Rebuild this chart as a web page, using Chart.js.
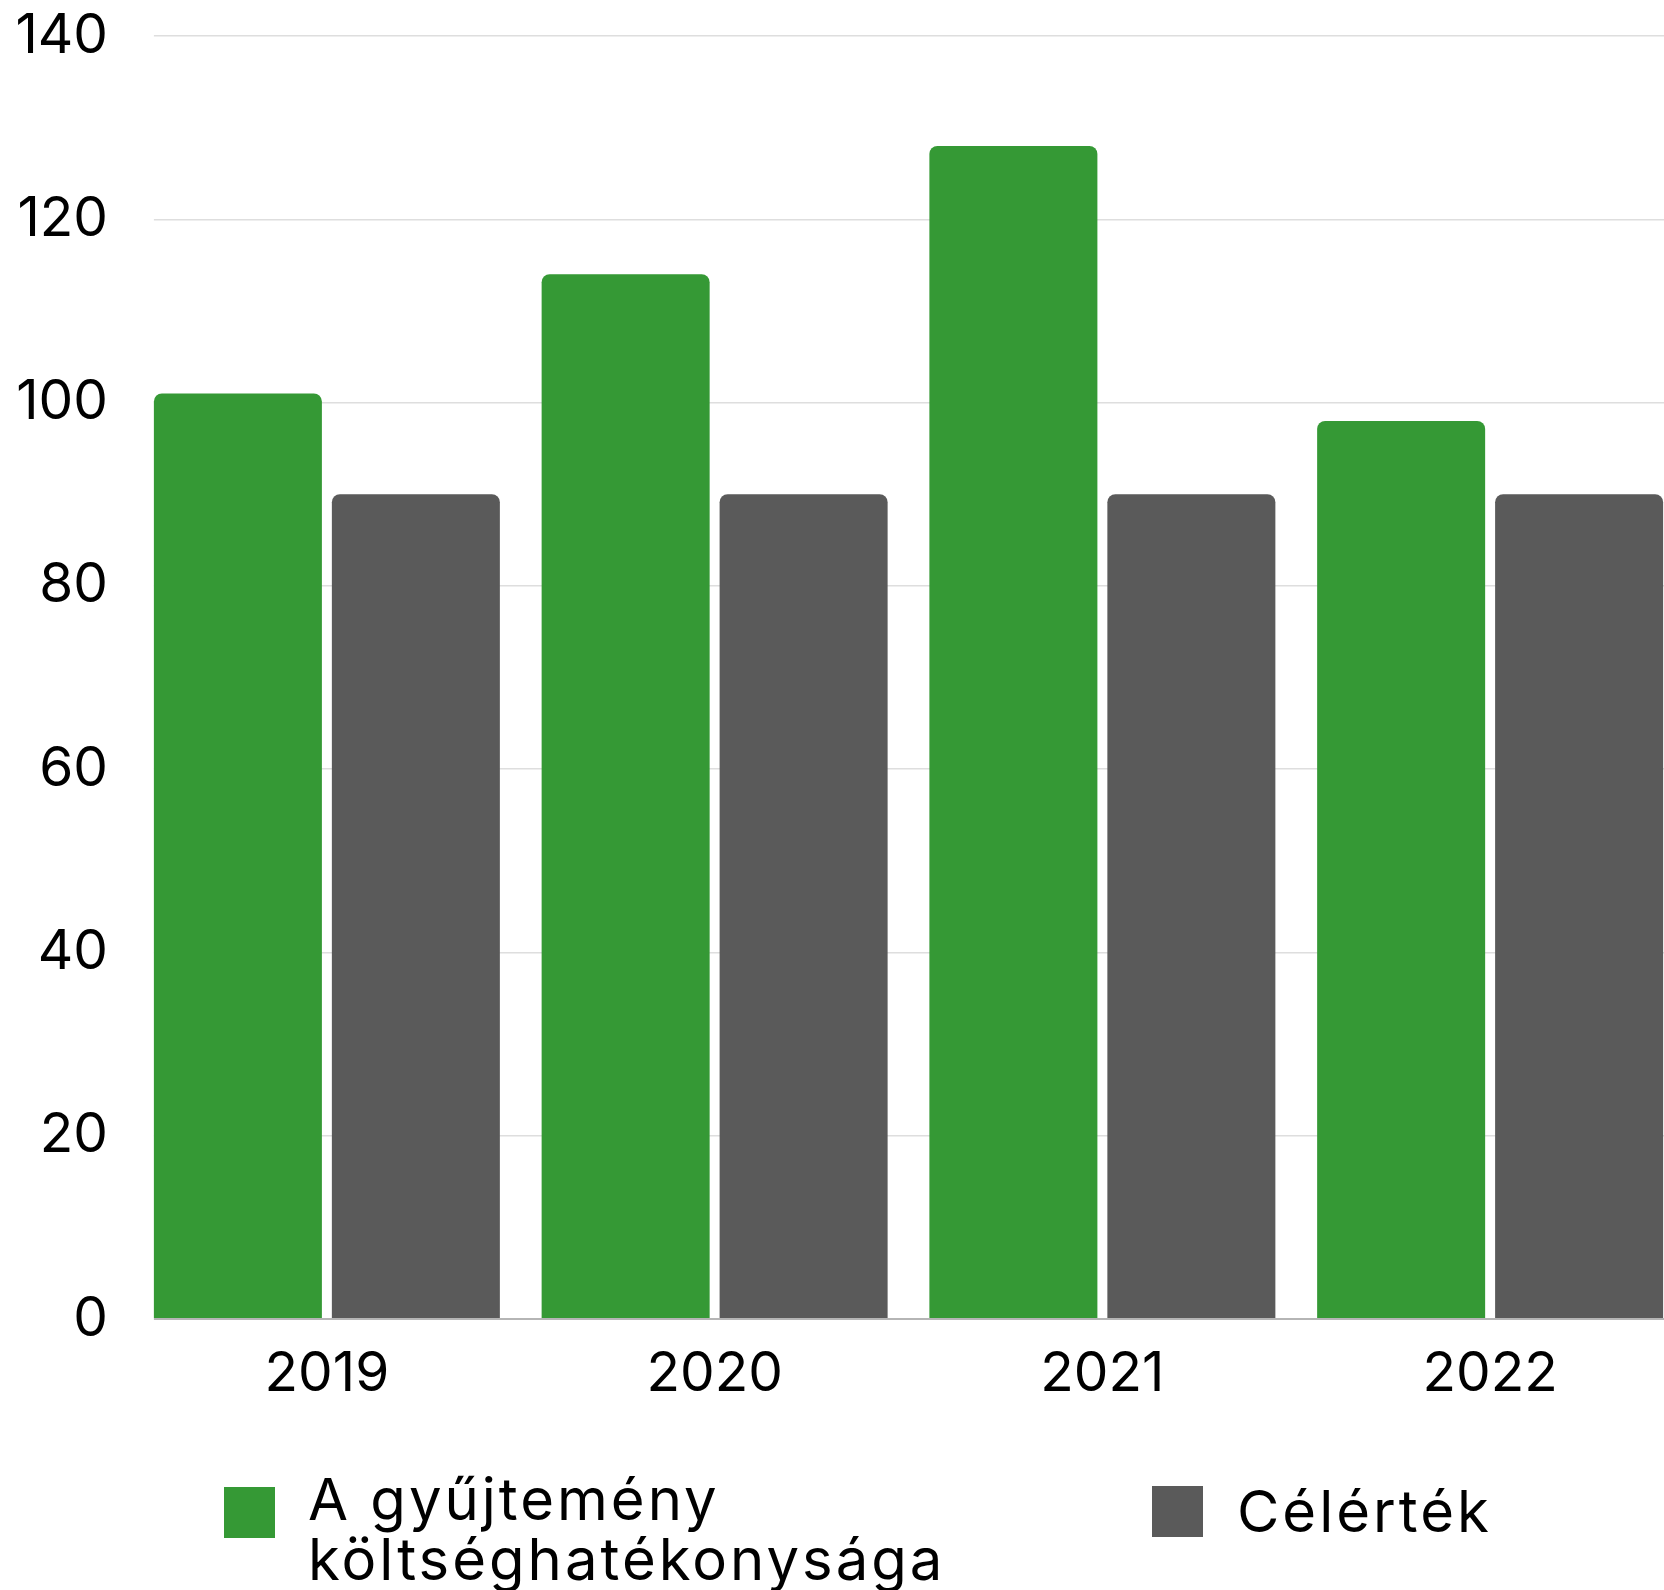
<!DOCTYPE html>
<html><head><meta charset="utf-8">
<script src="https://cdn.jsdelivr.net/npm/chart.js@4"></script>
<style>
html,body{margin:0;padding:0;background:#fff;overflow:hidden;width:1664px;height:1590px;}
#wrap{position:absolute;left:0;top:0;width:1710px;height:1421px;}
.legtxt{position:absolute;font-family:Inter, "Noto Sans", sans-serif;font-size:58px;line-height:60px;letter-spacing:3px;color:#000;white-space:nowrap;}
.legbox{position:absolute;width:51px;height:51px;}
</style></head><body>
<div id="wrap"><canvas id="c"></canvas></div>
<div id="legend"></div>
<script>
const categories = ['2019', '2020', '2021', '2022'];
const seriesNames = [['A gyűjtemény', 'költséghatékonysága'], ['Célérték']];
const costEfficiency = [101, 114, 128, 98];
const targetValues = [90, 90, 90, 90];
const yTickValues = [0, 20, 40, 60, 80, 100, 120, 140];
const seriesColors = ['#359935', '#5a5a5a'];

const FONT = 'Inter, "Noto Sans", sans-serif';

// mask the short stretch of grid left of the first bar (reference grid starts at the first bar)
const gridStartPlugin = {
  id: 'gridStart',
  beforeDatasetsDraw(chart) {
    const meta = chart.getDatasetMeta(0);
    if (!meta.data.length) return;
    const bar = meta.data[0];
    const firstLeft = bar.x - bar.width / 2;
    const a = chart.chartArea;
    const ctx = chart.ctx;
    ctx.save();
    ctx.fillStyle = '#ffffff';
    ctx.fillRect(a.left - 2, a.top - 3, firstLeft - a.left + 2, a.bottom - a.top + 6);
    ctx.restore();
  }
};

new Chart(document.getElementById('c'), {
  type: 'bar',
  data: {
    labels: categories,
    datasets: [
      { label: seriesNames[0].join(' '), data: costEfficiency, backgroundColor: seriesColors[0] },
      { label: seriesNames[1].join(' '), data: targetValues, backgroundColor: seriesColors[1] }
    ]
  },
  plugins: [gridStartPlugin],
  options: {
    responsive: true,
    maintainAspectRatio: false,
    animation: false,
    layout: { padding: { top: 36, right: 26, left: 0, bottom: 0 } },
    datasets: { bar: { categoryPercentage: 0.918, barPercentage: 0.944, borderRadius: 8, borderSkipped: 'start' } },
    plugins: { legend: { display: false }, tooltip: { enabled: false } },
    scales: {
      x: {
        grid: { display: false },
        border: { display: false },
        ticks: { color: '#000', font: { family: FONT, size: 55 }, padding: 14 },
        afterFit: s => { s.height = 102; }
      },
      y: {
        min: 0, max: 140,
        afterBuildTicks: s => { s.ticks = yTickValues.map(v => ({ value: v })); },
        grid: {
          drawTicks: false,
          color: c => (c.tick && c.tick.value === 0) ? '#b5b5b5' : '#dedede',
          lineWidth: c => (c.tick && c.tick.value === 0) ? 2 : 1.5
        },
        border: { display: false },
        ticks: { color: '#000', font: { family: FONT, size: 55 }, padding: 25 },
        afterFit: s => { s.width = 133; s.paddingTop = 0; s.paddingBottom = 0; }
      }
    }
  }
});

// HTML legend
const legend = document.getElementById('legend');
const legendLayout = [
  { box: [224, 1487], text: [308, 1469] },
  { box: [1152, 1486], text: [1237, 1481] }
];
seriesNames.forEach((name, i) => {
  const b = document.createElement('div');
  b.className = 'legbox';
  b.style.left = legendLayout[i].box[0] + 'px';
  b.style.top = legendLayout[i].box[1] + 'px';
  b.style.background = seriesColors[i];
  legend.appendChild(b);
  const t = document.createElement('div');
  t.className = 'legtxt';
  t.style.left = legendLayout[i].text[0] + 'px';
  t.style.top = legendLayout[i].text[1] + 'px';
  t.innerHTML = name.join('<br>');
  legend.appendChild(t);
});
</script>
</body></html>
